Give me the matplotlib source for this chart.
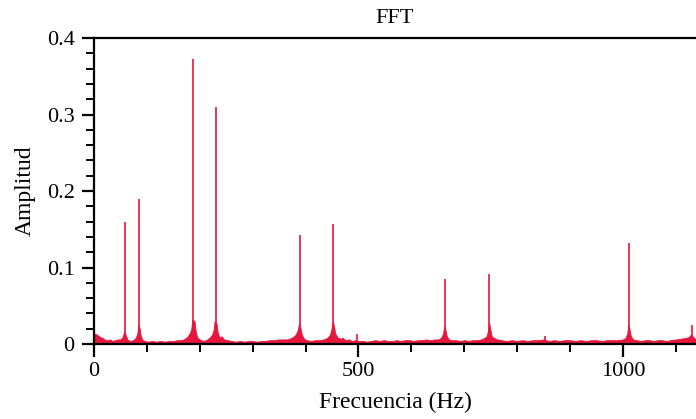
import matplotlib.pyplot as plt
from matplotlib.ticker import MultipleLocator, FixedLocator, FuncFormatter

plt.rcParams['font.family'] = ['Liberation Serif', 'DejaVu Serif']

# spectral lines (Hz, amplitude)
peak_hz = [58.5, 85, 188, 230, 389, 452, 497, 663, 747, 852, 1011, 1130]
peak_amp = [0.159, 0.189, 0.373, 0.310, 0.142, 0.157, 0.013, 0.085, 0.091, 0.011, 0.132, 0.025]

# noise floor, incl. the skirts around each line
floor_hz = [0, 4, 8, 12, 16, 20, 25, 30, 35, 40, 45, 50, 54, 57, 60, 63,
            68, 74, 79, 82, 84, 86, 88, 91, 96,
            102, 110, 118, 126, 134, 142, 150, 158, 166, 172, 177, 181, 184, 186, 190, 192, 195, 200, 206,
            212, 218, 223, 226, 228, 232, 234, 237, 241, 246, 252,
            260, 268, 276, 284, 292, 300, 308, 316, 324, 332, 340, 348, 356, 364, 370, 376, 381, 385, 388, 390, 393, 397, 402,
            410, 418, 426, 434, 441, 446, 449, 451, 453, 456, 460, 465, 470, 476, 482, 488, 494, 500,
            508, 516, 524, 532, 540, 548, 556, 564, 572, 580, 588, 596, 604, 612, 620, 628, 636, 644, 652, 657, 660, 662, 664, 667, 671, 676,
            684, 692, 700, 708, 716, 724, 732, 738, 742, 745, 747, 749, 752, 756, 762, 770,
            780, 790, 800, 810, 820, 830, 840, 850, 860, 870, 880, 890, 900, 910, 920, 930, 940, 950, 960, 970, 980, 990,
            1000, 1005, 1008, 1010, 1012, 1015, 1019, 1026,
            1034, 1042, 1050, 1058, 1066, 1074, 1082, 1090, 1100, 1110, 1118, 1124, 1128, 1132, 1136, 1140]
floor_amp = [0.014, 0.013, 0.011, 0.009, 0.008, 0.006, 0.005, 0.006, 0.004, 0.005, 0.006, 0.006, 0.009, 0.016, 0.012, 0.006,
             0.004, 0.005, 0.008, 0.014, 0.025, 0.022, 0.012, 0.006, 0.004,
             0.003, 0.004, 0.003, 0.004, 0.003, 0.004, 0.004, 0.005, 0.005, 0.007, 0.010, 0.014, 0.020, 0.032, 0.030, 0.018, 0.009, 0.006, 0.004,
             0.005, 0.008, 0.012, 0.018, 0.030, 0.026, 0.015, 0.009, 0.010, 0.006, 0.005,
             0.004, 0.003, 0.004, 0.003, 0.004, 0.004, 0.003, 0.004, 0.004, 0.005, 0.005, 0.006, 0.006, 0.006, 0.007, 0.009, 0.012, 0.018, 0.028, 0.022, 0.012, 0.007, 0.005,
             0.004, 0.005, 0.005, 0.006, 0.008, 0.012, 0.020, 0.030, 0.026, 0.014, 0.009, 0.007, 0.008, 0.005, 0.006, 0.004, 0.005, 0.004,
             0.004, 0.003, 0.004, 0.005, 0.004, 0.005, 0.004, 0.004, 0.005, 0.004, 0.005, 0.005, 0.004, 0.005, 0.005, 0.006, 0.005, 0.006, 0.006, 0.009, 0.014, 0.024, 0.020, 0.010, 0.006, 0.005,
             0.005, 0.004, 0.005, 0.004, 0.005, 0.005, 0.006, 0.008, 0.010, 0.018, 0.028, 0.020, 0.010, 0.008, 0.006, 0.005,
             0.004, 0.005, 0.004, 0.005, 0.004, 0.005, 0.005, 0.006, 0.004, 0.005, 0.004, 0.005, 0.005, 0.004, 0.005, 0.004, 0.005, 0.005, 0.004, 0.005, 0.005, 0.005,
             0.006, 0.008, 0.014, 0.025, 0.020, 0.010, 0.006, 0.005,
             0.004, 0.005, 0.005, 0.004, 0.005, 0.005, 0.004, 0.005, 0.006, 0.007, 0.008, 0.009, 0.012, 0.010, 0.007, 0.006]

red = '#e5173d'

fig = plt.figure(figsize=(6.96, 4.19), dpi=100)
ax = fig.add_axes([0.135, 0.179, 0.865, 0.730])

ax.fill_between(floor_hz, 0, floor_amp, color=red, lw=0.6)
ax.vlines(peak_hz, 0, peak_amp, color=red, lw=1.2)

ax.set_xlim(0, 1138)
ax.set_ylim(0, 0.4)

ax.xaxis.set_major_locator(FixedLocator([0, 500, 1000]))
ax.xaxis.set_minor_locator(MultipleLocator(100))
ax.yaxis.set_major_locator(MultipleLocator(0.1))
ax.yaxis.set_minor_locator(MultipleLocator(0.02))
ax.yaxis.set_major_formatter(FuncFormatter(lambda v, p: '0' if abs(v) < 1e-9 else f'{v:.1f}'))

ax.tick_params(which='major', direction='out', length=9, width=1.6, labelsize=16, pad=5)
ax.tick_params(which='minor', direction='out', length=6, width=1.4)
ax.tick_params(axis='x', which='major', pad=4)

for s in ['left', 'bottom', 'top']:
    ax.spines[s].set_linewidth(1.6)
ax.spines['right'].set_visible(False)

ax.set_title('FFT', fontsize=16, pad=11)
ax.set_xlabel('Frecuencia (Hz)', fontsize=17, labelpad=8)
ax.set_ylabel('Amplitud', fontsize=17, labelpad=8)

fig.savefig('out.png', dpi=100)
